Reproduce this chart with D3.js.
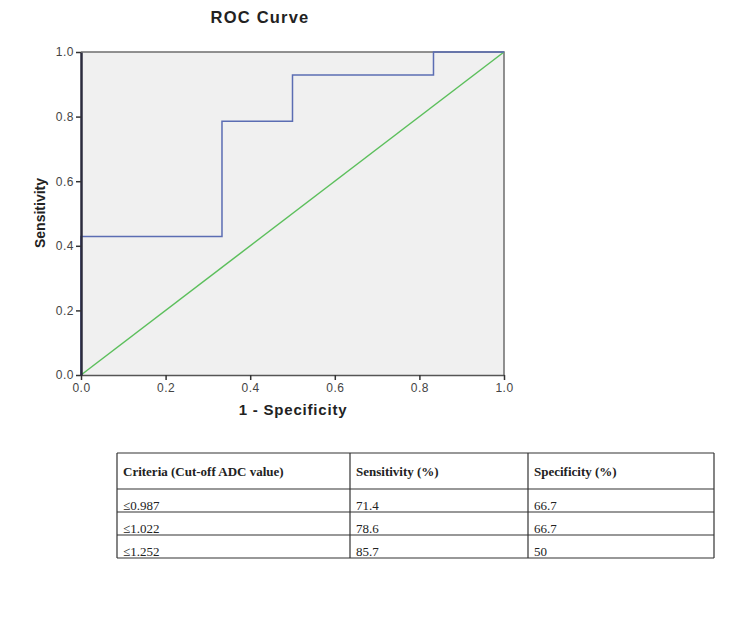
<!DOCTYPE html>
<html>
<head>
<meta charset="utf-8">
<script src="https://cdn.jsdelivr.net/npm/d3@7"></script>
<style>
  body { margin: 0; background: #fff; }
  svg { display: block; }
</style>
</head>
<body>
<svg id="chart" width="750" height="623"></svg>
<script>
// ROC curve points (1 - specificity, sensitivity)
var fpr = [0, 0, 0.3333, 0.3333, 0.5, 0.5, 0.8333, 0.8333, 1]
var tpr = [0, 0.4286, 0.4286, 0.7857, 0.7857, 0.9286, 0.9286, 1, 1]
// reference diagonal
var refX = [0, 1]
var refY = [0, 1]
var ticks = [0, 0.2, 0.4, 0.6, 0.8, 1.0]

// table under the chart
var tableHeader = ['Criteria (Cut-off ADC value)', 'Sensitivity (%)', 'Specificity (%)']
var criteria = ['\u22640.987', '\u22641.022', '\u22641.252']
var sensitivity = ['71.4', '78.6', '85.7']
var specificity = ['66.7', '66.7', '50']

var svg = d3.select('#chart')

var plotLeft = 81, plotRight = 504, plotTop = 52, plotBottom = 375

var xScale = d3.scaleLinear().domain([0, 1]).range([plotLeft, plotRight])
var yScale = d3.scaleLinear().domain([0, 1]).range([plotBottom, plotTop])

svg.append('rect')
  .attr('x', plotLeft).attr('y', plotTop)
  .attr('width', plotRight - plotLeft).attr('height', plotBottom - plotTop)
  .attr('fill', '#f0f0f0')

// frame top & right
svg.append('path')
  .attr('d', `M${plotLeft},${plotTop}H${plotRight}V${plotBottom}`)
  .attr('fill', 'none')
  .attr('stroke', '#6e6e6e')
  .attr('stroke-width', 1.5)

// diagonal
var line = d3.line().x(d => xScale(d[0])).y(d => yScale(d[1]))
svg.append('path')
  .datum(d3.zip(refX, refY))
  .attr('d', line)
  .attr('fill', 'none')
  .attr('stroke', '#5cbf5c')
  .attr('stroke-width', 1.5)

// roc curve
svg.append('path')
  .datum(d3.zip(fpr, tpr))
  .attr('d', line)
  .attr('fill', 'none')
  .attr('stroke', '#5b6db3')
  .attr('stroke-width', 1.5)

// axes
var xAxis = svg.append('g')
  .attr('transform', `translate(0,${plotBottom})`)
  .call(d3.axisBottom(xScale).tickValues(ticks).tickFormat(d3.format('.1f')).tickSize(5).tickSizeOuter(0))
var yAxis = svg.append('g')
  .attr('transform', `translate(${plotLeft},0)`)
  .call(d3.axisLeft(yScale).tickValues(ticks).tickFormat(d3.format('.1f')).tickSize(5).tickSizeOuter(0))

xAxis.select('.domain').attr('stroke', '#555').attr('stroke-width', 1.5)
yAxis.select('.domain').attr('stroke', '#2b2b3d').attr('stroke-width', 2.5)
svg.selectAll('.tick line').attr('stroke', '#333').attr('stroke-width', 1.5)
svg.selectAll('.tick text')
  .attr('fill', '#444')
  .style('font-family', 'Liberation Sans, Arial, sans-serif')
  .style('font-size', '12px')
  .style('letter-spacing', '0.5px')
xAxis.selectAll('.tick text').attr('y', 8)
yAxis.selectAll('.tick text').attr('x', -7)

// titles
svg.append('text')
  .attr('x', 260).attr('y', 23)
  .attr('text-anchor', 'middle')
  .style('font', 'bold 16.5px Liberation Sans, Arial, sans-serif')
  .style('letter-spacing', '1.2px')
  .attr('fill', '#222')
  .text('ROC Curve')

svg.append('text')
  .attr('x', 293).attr('y', 415)
  .attr('text-anchor', 'middle')
  .style('font', 'bold 15px Liberation Sans, Arial, sans-serif')
  .style('letter-spacing', '0.8px')
  .attr('fill', '#222')
  .text('1 - Specificity')

svg.append('text')
  .attr('transform', 'translate(45,213) rotate(-90)')
  .attr('text-anchor', 'middle')
  .style('font', 'bold 14px Liberation Sans, Arial, sans-serif')
  .attr('fill', '#222')
  .text('Sensitivity')

// table
var colX = [117, 350, 528, 714]
var rowY = [453, 489, 512, 535, 558]
var tbl = svg.append('g')
  .style('font-family', 'Liberation Serif, Times New Roman, serif')
  .attr('fill', '#222')

rowY.forEach(y => {
  tbl.append('line')
    .attr('x1', colX[0]).attr('x2', colX[3])
    .attr('y1', y).attr('y2', y)
    .attr('stroke', '#333').attr('stroke-width', 1.2)
})
colX.forEach(x => {
  tbl.append('line')
    .attr('x1', x).attr('x2', x)
    .attr('y1', rowY[0]).attr('y2', rowY[4])
    .attr('stroke', '#333').attr('stroke-width', 1.2)
})

tbl.selectAll('.head')
  .data(tableHeader)
  .enter()
  .append('text')
    .attr('x', (d, i) => colX[i] + 6)
    .attr('y', 476)
    .style('font-weight', 'bold')
    .style('font-size', '13px')
    .text(d => d)

var rows = d3.zip(criteria, sensitivity, specificity)
rows.forEach((r, ri) => {
  r.forEach((v, ci) => {
    tbl.append('text')
      .attr('x', colX[ci] + 6)
      .attr('y', rowY[ri + 2] - 2)
      .style('font-size', '13px')
      .text(v)
  })
})
</script>
</body>
</html>
